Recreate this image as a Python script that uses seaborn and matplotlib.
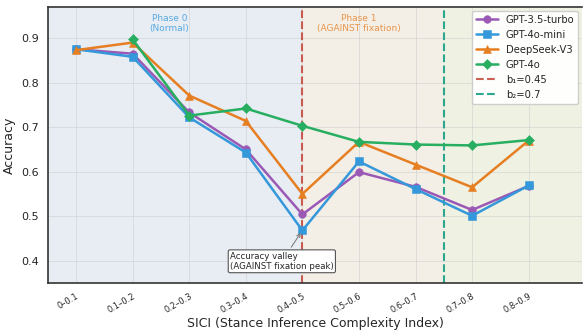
import numpy as np
import pandas as pd
import seaborn as sns
import matplotlib.pyplot as plt

bins = ["0\u20130.1", "0.1\u20130.2", "0.2\u20130.3", "0.3\u20130.4", "0.4\u20130.5",
        "0.5\u20130.6", "0.6\u20130.7", "0.7\u20130.8", "0.8\u20130.9"]
gpt35 = [0.875, 0.865, 0.733, 0.650, 0.504, 0.599, 0.566, 0.514, 0.568]
gpt4o_mini = [0.875, 0.858, 0.722, 0.643, 0.468, 0.623, 0.561, 0.501, 0.569]
deepseek = [0.873, 0.890, 0.771, 0.714, 0.550, 0.667, 0.616, 0.565, 0.670]
gpt4o = [np.nan, 0.897, 0.726, 0.742, 0.703, 0.667, 0.661, 0.659, 0.671]

models = ["GPT-3.5-turbo", "GPT-4o-mini", "DeepSeek-V3", "GPT-4o"]
series = [gpt35, gpt4o_mini, deepseek, gpt4o]
colors = ["#9b59b6", "#3498db", "#e67e22", "#27ae60"]
markers = ["o", "s", "^", "D"]

b1_pos, b2_pos = 4, 6.5

sns.set_theme(style="whitegrid")
plt.rcParams['font.family'] = ['DejaVu Sans']

fig = plt.figure(figsize=(5.83, 3.31), dpi=100)
ax = fig.add_axes([0.082, 0.145, 0.917, 0.834])

x = np.arange(len(bins))
ax.axvspan(-0.5, b1_pos, color="#e8edf3", lw=0, zorder=0)
ax.axvspan(b1_pos, b2_pos, color="#f4efe6", lw=0, zorder=0)
ax.axvspan(b2_pos, 9, color="#eff2e3", lw=0, zorder=0)

for name, vals, c, m in zip(models, series, colors, markers):
    df = pd.DataFrame({"bin": x, "acc": vals}).dropna()
    sns.lineplot(data=df, x="bin", y="acc", ax=ax, color=c, marker=m,
                 markersize=5.5 if m != "^" else 6, markeredgewidth=0.4,
                 markeredgecolor=c, linewidth=1.8, label=name, zorder=3)

ax.axvline(b1_pos, color="#c0392b", ls="--", lw=1.5, alpha=0.8, label="b\u2081=0.45", zorder=2)
ax.axvline(b2_pos, color="#16a085", ls="--", lw=1.5, alpha=0.9, label="b\u2082=0.7", zorder=2)

ax.text(1.65, 0.955, "Phase 0\n(Normal)", ha="center", va="top", fontsize=6.5,
        color="#3498db", alpha=0.8)
ax.text(5.0, 0.955, "Phase 1\n(AGAINST fixation)", ha="center", va="top", fontsize=6.5,
        color="#e67e22", alpha=0.8)
ax.text(7.85, 0.955, "Phase 2\n(Dual fixation)", ha="center", va="top", fontsize=6.5,
        color="#7f8c3d", alpha=0.8)

ax.annotate("Accuracy valley\n(AGAINST fixation peak)", xy=(4, 0.468),
            xytext=(2.72, 0.377), fontsize=6.2, ha="left", va="bottom",
            bbox=dict(boxstyle="round,pad=0.2", fc="white", ec="#555555", lw=0.8),
            arrowprops=dict(arrowstyle="->", color="gray", lw=0.8), zorder=5)

ax.set_xlim(-0.5, 8.95)
ax.set_ylim(0.35, 0.97)
ax.set_xticks(x)
ax.set_xticklabels(bins, rotation=30, ha="right", rotation_mode="anchor", fontsize=6)
ax.set_yticks([0.4, 0.5, 0.6, 0.7, 0.8, 0.9])
ax.tick_params(axis="y", labelsize=8, length=3, color="#333333")
ax.tick_params(axis="x", length=3, color="#333333", pad=3)
ax.set_xlabel("SICI (Stance Inference Complexity Index)", fontsize=9, labelpad=2)
ax.set_ylabel("Accuracy", fontsize=9)
ax.grid(True, color="#d0d0d0", lw=0.6, alpha=0.7)
for s in ["left", "bottom", "top"]:
    ax.spines[s].set_color("#333333")
    ax.spines[s].set_linewidth(1.2)
ax.spines["right"].set_visible(False)

leg = ax.legend(loc="upper right", fontsize=7.2, frameon=True, framealpha=0.95,
                borderaxespad=0.4, handlelength=2.2)
leg.get_frame().set_edgecolor("#cccccc")
leg.set_zorder(10)

fig.savefig("out.png", dpi=100)
